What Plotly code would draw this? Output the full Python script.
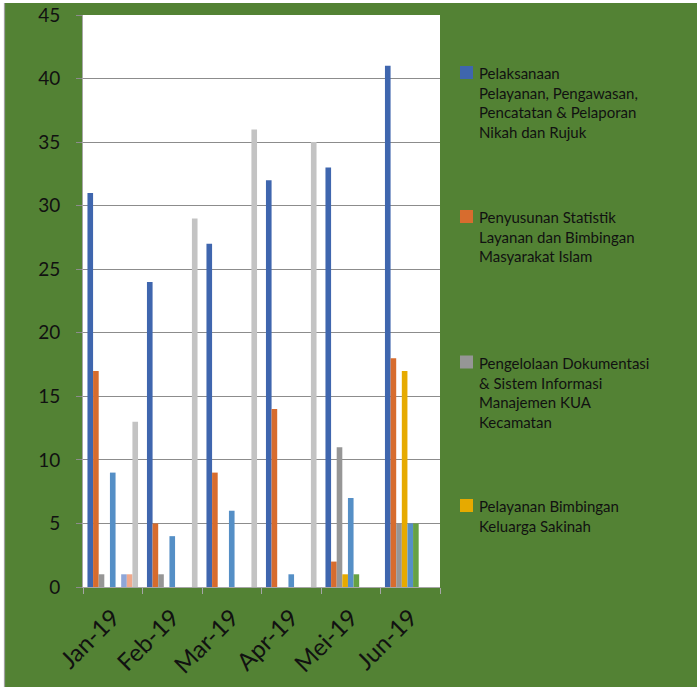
import plotly.graph_objects as go

months = ["Jan-19", "Feb-19", "Mar-19", "Apr-19", "Mei-19", "Jun-19"]

s1_name = "Pelaksanaan<br>Pelayanan, Pengawasan,<br>Pencatatan & Pelaporan<br>Nikah dan Rujuk"
s2_name = "Penyusunan Statistik<br>Layanan dan Bimbingan<br>Masyarakat Islam"
s3_name = "Pengelolaan Dokumentasi<br>& Sistem Informasi<br>Manajemen KUA<br>Kecamatan"
s4_name = "Pelayanan Bimbingan<br>Keluarga Sakinah"

s1 = [31, 24, 27, 32, 33, 41]
s2 = [17, 5, 9, 14, 2, 18]
s3 = [1, 1, 0, 0, 11, 5]
s4 = [0, 0, 0, 0, 1, 17]
s5 = [9, 4, 6, 1, 7, 5]
s6 = [0, 0, 0, 0, 1, 5]
s7 = [1, 0, 0, 0, 0, 0]
s8 = [1, 0, 0, 0, 0, 0]
s9 = [13, 29, 36, 35, 0, 0]

series = [
    (s1_name, s1, "#3F66AE", True),
    (s2_name, s2, "#D76C2E", True),
    (s3_name, s3, "#969696", True),
    (s4_name, s4, "#E6AA00", True),
    ("Seri 5", s5, "#558FC6", False),
    ("Seri 6", s6, "#66A143", False),
    ("Seri 7", s7, "#8EA6D8", False),
    ("Seri 8", s8, "#F0A98C", False),
    ("Seri 9", s9, "#C3C3C3", False),
]

GREEN = "#538234"
FONT = "Lato"

fig = go.Figure()
for name, vals, color, _ in series:
    fig.add_trace(go.Bar(x=months, y=vals, name=name, marker_color=color,
                         marker_line_width=0, showlegend=False))

W, H = 697, 687
L, R, T, B = 83, 440, 15, 587
pw, ph = R - L, B - T


def px(x):
    return (x - L) / pw


def py(y):
    return (B - y) / ph


shapes = []
annotations = []
legend_centers = [72.5, 216.5, 362, 505.5]
for (name, vals, color, show), cy in zip(series[:4], legend_centers):
    shapes.append(dict(type="rect", xref="paper", yref="paper",
                       x0=px(460), x1=px(473), y0=py(cy + 6.5), y1=py(cy - 6.5),
                       fillcolor=color, line_width=0))
    annotations.append(dict(xref="paper", yref="paper", x=px(477), y=py(cy - 10.5),
                            xanchor="left", yanchor="top", align="left",
                            text=name, showarrow=False,
                            font=dict(family=FONT, size=15, color="#111111")))

# outer frame strips
shapes.append(dict(type="rect", xref="paper", yref="paper", x0=px(0), x1=px(4),
                   y0=py(H), y1=py(0), fillcolor="white", line_width=0))
shapes.append(dict(type="rect", xref="paper", yref="paper", x0=px(0), x1=px(W),
                   y0=py(3), y1=py(0), fillcolor="white", line_width=0))
shapes.append(dict(type="line", xref="paper", yref="paper", x0=px(4.5), x1=px(4.5),
                   y0=py(H), y1=py(3), line=dict(color="#A0A0A0", width=1.2)))

fig.update_layout(
    width=W, height=H,
    margin=dict(l=L, r=W - R, t=T, b=H - B),
    paper_bgcolor=GREEN,
    plot_bgcolor="white",
    barmode="group",
    bargap=0.15,
    bargroupgap=0,
    shapes=shapes,
    annotations=annotations,
    font=dict(family=FONT, color="#111111"),
)
fig.update_yaxes(range=[0, 45], dtick=5, showgrid=True, gridcolor="#8C8C8C", gridwidth=1,
                 ticks="outside", ticklen=6, tickcolor="#8C8C8C",
                 showline=True, linecolor="#A6A6A6", linewidth=1,
                 tickfont=dict(family=FONT, size=19, color="#111111"),
                 ticklabelstandoff=12, zeroline=False, automargin=False)
fig.update_xaxes(tickangle=-45, tickson="boundaries", ticks="outside", ticklen=6,
                 tickcolor="#A6A6A6", showline=True, linecolor="#A6A6A6", linewidth=1,
                 tickfont=dict(family=FONT, size=24, color="#111111"),
                 ticklabelstandoff=6, automargin=False)

fig.write_html("out.html")
